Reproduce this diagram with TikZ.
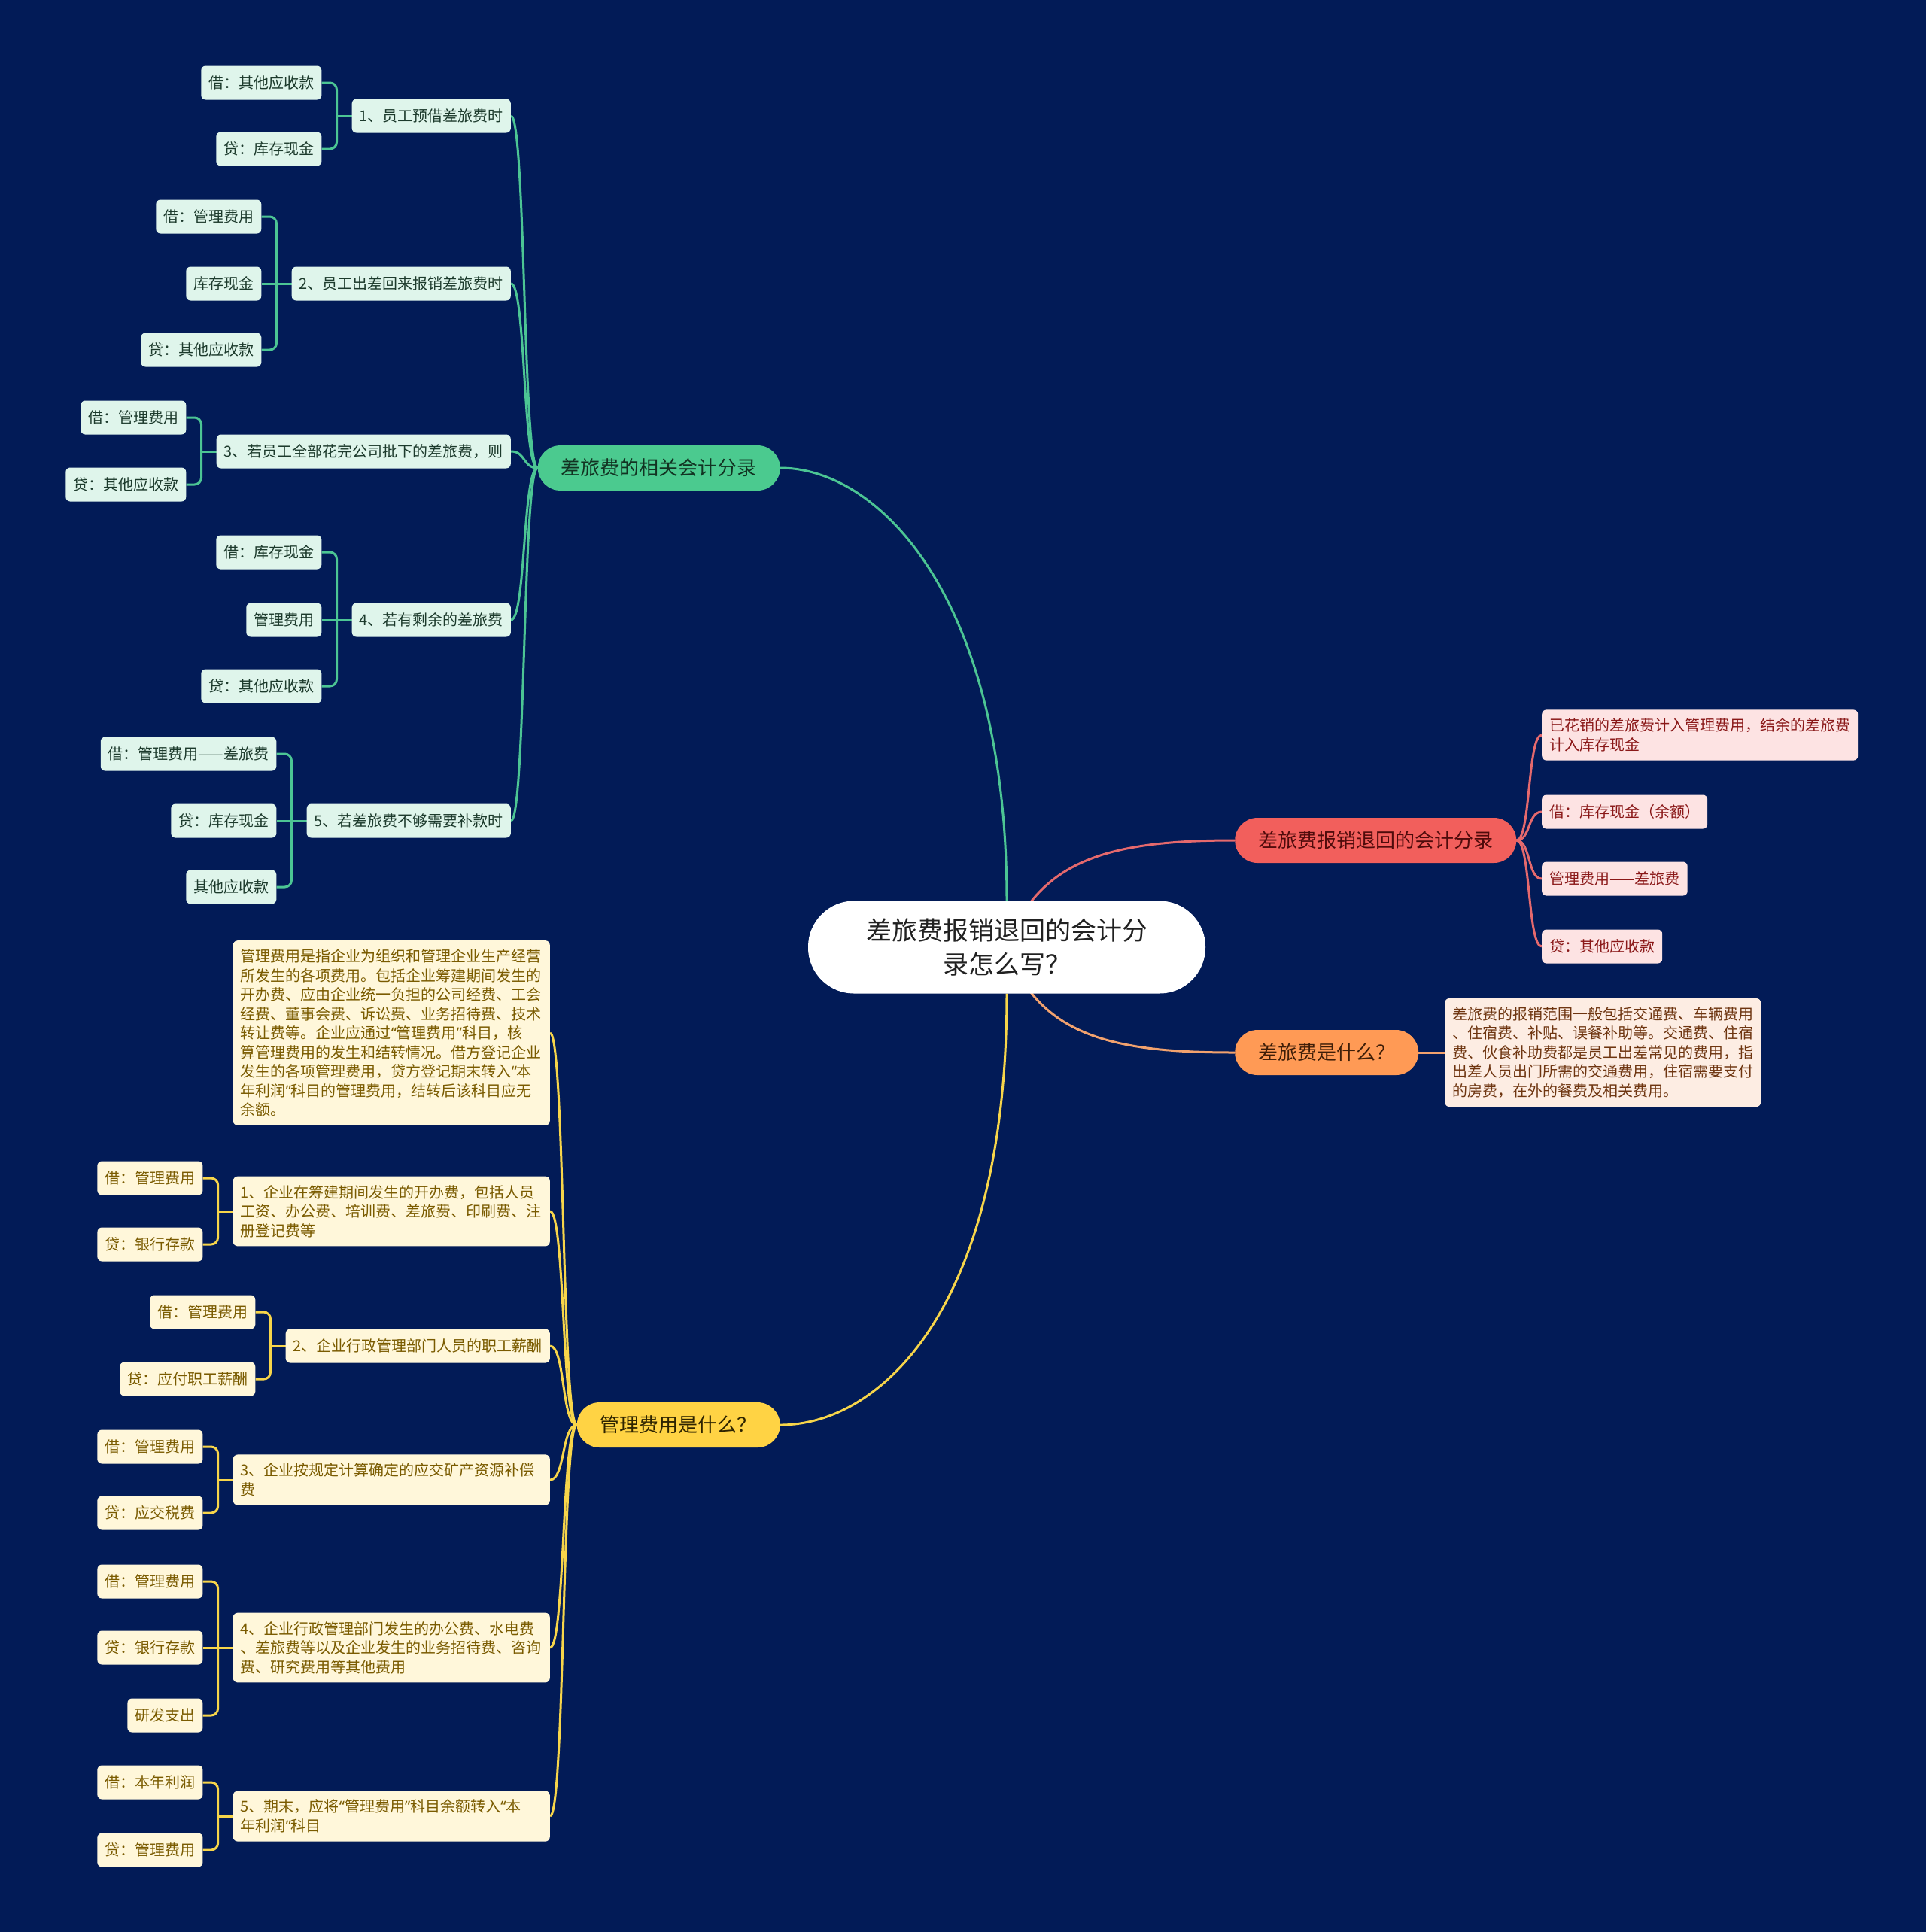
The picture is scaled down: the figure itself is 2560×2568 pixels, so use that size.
\documentclass[tikz,border=0pt]{standalone}
\usepackage{fontspec}
\setmainfont{Noto Sans CJK SC}
\newfontfamily\qfont{Noto Sans}
\newcommand\oq{{\qfont “}}
\newcommand\cq{{\qfont ”}}
\usetikzlibrary{calc}
\pgfdeclarelayer{back}
\pgfdeclarelayer{lines}
\pgfsetlayers{back,lines,main}
\definecolor{bgnavy}{HTML}{021B57}
\definecolor{gline}{HTML}{4CC594}
\definecolor{gmain}{HTML}{4BCA8F}
\definecolor{gbox}{HTML}{DFF5EB}
\definecolor{gtext}{HTML}{1C3A2C}
\definecolor{gmaintext}{HTML}{123322}
\definecolor{rline}{HTML}{E5696D}
\definecolor{rmain}{HTML}{F25F5C}
\definecolor{rbox}{HTML}{FDE3E3}
\definecolor{rtext}{HTML}{8A1818}
\definecolor{rmaintext}{HTML}{4E0B0B}
\definecolor{oline}{HTML}{F2A26E}
\definecolor{omain}{HTML}{FF9A55}
\definecolor{obox}{HTML}{FDEDE3}
\definecolor{otext}{HTML}{6E3510}
\definecolor{omaintext}{HTML}{3E1E08}
\definecolor{yline}{HTML}{F7D54A}
\definecolor{ymain}{HTML}{FFD344}
\definecolor{ybox}{HTML}{FFF7DA}
\definecolor{ytext}{HTML}{7A5B00}
\definecolor{ymaintext}{HTML}{2E2400}
\begin{document}
\begin{tikzpicture}[x=1pt,y=-1pt,
  cmain/.style={fill=white, text=black!87, rounded corners=61pt, minimum width=528pt, minimum height=123pt, align=center, font=\fontsize{34}{45}\selectfont, inner sep=0pt},
  mainst/.style={rounded corners=30pt, minimum height=60pt, inner xsep=31pt, inner ysep=0pt, font=\fontsize{26}{32}\selectfont},
  base/.style={inner xsep=10pt, inner ysep=11.5pt, rounded corners=6pt, font=\fontsize{20}{25.5}\selectfont, align=left, minimum height=45pt},
  gsm/.style={base, fill=gbox, text=gtext, anchor=east},
  rsm/.style={base, fill=rbox, text=rtext, anchor=west},
  osm/.style={base, fill=obox, text=otext, anchor=west},
  ysm/.style={base, fill=ybox, text=ytext, anchor=east},
  ywide/.style={ysm, text width=401pt},
  gl/.style={draw=gline, line width=3pt},
  rl/.style={draw=rline, line width=3pt},
  ol/.style={draw=oline, line width=3pt},
  yl/.style={draw=yline, line width=3pt},
  br/.style={rounded corners=9pt}
]
\begin{pgfonlayer}{back}
\fill[bgnavy] (0,0) rectangle (2560,2568);
\end{pgfonlayer}
\useasboundingbox (0,0) rectangle (2560,2568);

% central
\node[cmain] (c) at (1338,1259) {差旅费报销退回的会计分\\录怎么写？};

% main branches
\node[mainst, fill=gmain, text=gmaintext, anchor=east] (g) at (1037,622) {差旅费的相关会计分录};
\node[mainst, fill=rmain, text=rmaintext, anchor=west] (r) at (1641,1117) {差旅费报销退回的会计分录};
\node[mainst, fill=omain, text=omaintext, anchor=west] (o) at (1641,1399) {差旅费是什么？};
\node[mainst, fill=ymain, text=ymaintext, anchor=east] (y) at (1037,1894) {管理费用是什么？};

% green level 2
\node[gsm] (g1) at (679,154) {1、员工预借差旅费时};
\node[gsm] (g2) at (679,377) {2、员工出差回来报销差旅费时};
\node[gsm] (g3) at (679,600) {3、若员工全部花完公司批下的差旅费，则};
\node[gsm] (g4) at (679,824) {4、若有剩余的差旅费};
\node[gsm] (g5) at (679,1091) {5、若差旅费不够需要补款时};

% green level 3
\node[gsm, xshift=-40pt] (g11) at (g1.west |- 0,110) {借：其他应收款};
\node[gsm, xshift=-40pt] (g12) at (g1.west |- 0,198) {贷：库存现金};
\node[gsm, xshift=-40pt] (g21) at (g2.west |- 0,288) {借：管理费用};
\node[gsm, xshift=-40pt] (g22) at (g2.west |- 0,377) {库存现金};
\node[gsm, xshift=-40pt] (g23) at (g2.west |- 0,465) {贷：其他应收款};
\node[gsm, xshift=-40pt] (g31) at (g3.west |- 0,555) {借：管理费用};
\node[gsm, xshift=-40pt] (g32) at (g3.west |- 0,644) {贷：其他应收款};
\node[gsm, xshift=-40pt] (g41) at (g4.west |- 0,734) {借：库存现金};
\node[gsm, xshift=-40pt] (g42) at (g4.west |- 0,824) {管理费用};
\node[gsm, xshift=-40pt] (g43) at (g4.west |- 0,912) {贷：其他应收款};
\node[gsm, xshift=-40pt] (g51) at (g5.west |- 0,1002) {借：管理费用——差旅费};
\node[gsm, xshift=-40pt] (g52) at (g5.west |- 0,1091) {贷：库存现金};
\node[gsm, xshift=-40pt] (g53) at (g5.west |- 0,1179) {其他应收款};

% red children
\node[rsm] (r1) at (2049,977) {已花销的差旅费计入管理费用，结余的差旅费\\计入库存现金};
\node[rsm] (r2) at (2049,1079) {借：库存现金（余额）};
\node[rsm] (r3) at (2049,1168) {管理费用——差旅费};
\node[rsm] (r4) at (2049,1258) {贷：其他应收款};

% orange child
\node[osm] (o1) at (1920,1399) {差旅费的报销范围一般包括交通费、车辆费用\\、住宿费、补贴、误餐补助等。交通费、住宿\\费、伙食补助费都是员工出差常见的费用，指\\出差人员出门所需的交通费用，住宿需要支付\\的房费，在外的餐费及相关费用。};

% yellow level 2
\node[ywide] (y0) at (731,1373) {管理费用是指企业为组织和管理企业生产经营\\所发生的各项费用。包括企业筹建期间发生的\\开办费、应由企业统一负担的公司经费、工会\\经费、董事会费、诉讼费、业务招待费、技术\\转让费等。企业应通过\oq 管理费用\cq 科目，核\\算管理费用的发生和结转情况。借方登记企业\\发生的各项管理费用，贷方登记期末转入\oq 本\\年利润\cq 科目的管理费用，结转后该科目应无\\余额。};
\node[ywide] (y1) at (731,1610) {1、企业在筹建期间发生的开办费，包括人员\\工资、办公费、培训费、差旅费、印刷费、注\\册登记费等};
\node[ysm] (y2) at (731,1789) {2、企业行政管理部门人员的职工薪酬};
\node[ywide] (y3) at (731,1967) {3、企业按规定计算确定的应交矿产资源补偿\\费};
\node[ywide] (y4) at (731,2190) {4、企业行政管理部门发生的办公费、水电费\\、差旅费等以及企业发生的业务招待费、咨询\\费、研究费用等其他费用};
\node[ywide] (y5) at (731,2414) {5、期末，应将\oq 管理费用\cq 科目余额转入\oq 本\\年利润\cq 科目};

% yellow level 3
\node[ysm, xshift=-40pt] (y11) at (y1.west |- 0,1566) {借：管理费用};
\node[ysm, xshift=-40pt] (y12) at (y1.west |- 0,1654) {贷：银行存款};
\node[ysm, xshift=-40pt] (y21) at (y2.west |- 0,1744) {借：管理费用};
\node[ysm, xshift=-40pt] (y22) at (y2.west |- 0,1833) {贷：应付职工薪酬};
\node[ysm, xshift=-40pt] (y31) at (y3.west |- 0,1923) {借：管理费用};
\node[ysm, xshift=-40pt] (y32) at (y3.west |- 0,2011) {贷：应交税费};
\node[ysm, xshift=-40pt] (y41) at (y4.west |- 0,2102) {借：管理费用};
\node[ysm, xshift=-40pt] (y42) at (y4.west |- 0,2190) {贷：银行存款};
\node[ysm, xshift=-40pt] (y43) at (y4.west |- 0,2280) {研发支出};
\node[ysm, xshift=-40pt] (y51) at (y5.west |- 0,2369) {借：本年利润};
\node[ysm, xshift=-40pt] (y52) at (y5.west |- 0,2459) {贷：管理费用};

\begin{pgfonlayer}{lines}
% central to main
\draw[gl] (c.north) .. controls (1338,797) and (1170,622) .. (g.east);
\draw[yl] (c.south) .. controls (1338,1740) and (1170,1894) .. (y.east);
\draw[rl] (c.center) .. controls (1380,1140) and (1480,1117) .. (r.west);
\draw[ol] (c.center) .. controls (1380,1378) and (1480,1399) .. (o.west);

% main to level 2
\foreach \k in {g1,g2,g3,g4,g5}
  \draw[gl] (\k.east) .. controls +(20,0) and +(-20,0) .. (g.west);
\foreach \k in {r1,r2,r3,r4}
  \draw[rl] (r.east) .. controls +(19,0) and +(-19,0) .. (\k.west);
\draw[ol] (o.east) -- (o1.west);
\foreach \k in {y0,y1,y2,y3,y4,y5}
  \draw[yl] (\k.east) .. controls +(20,0) and +(-20,0) .. (y.west);

% brackets green
\draw[gl] (g1.west) -- ++(-20,0) coordinate (gb1);
\draw[gl,br] (gb1) |- (g11.east);
\draw[gl,br] (gb1) |- (g12.east);
\draw[gl] (g2.west) -- ++(-20,0) coordinate (gb2);
\draw[gl,br] (gb2) |- (g21.east);
\draw[gl] (gb2) -- (g22.east);
\draw[gl,br] (gb2) |- (g23.east);
\draw[gl] (g3.west) -- ++(-20,0) coordinate (gb3);
\draw[gl,br] (gb3) |- (g31.east);
\draw[gl,br] (gb3) |- (g32.east);
\draw[gl] (g4.west) -- ++(-20,0) coordinate (gb4);
\draw[gl,br] (gb4) |- (g41.east);
\draw[gl] (gb4) -- (g42.east);
\draw[gl,br] (gb4) |- (g43.east);
\draw[gl] (g5.west) -- ++(-20,0) coordinate (gb5);
\draw[gl,br] (gb5) |- (g51.east);
\draw[gl] (gb5) -- (g52.east);
\draw[gl,br] (gb5) |- (g53.east);

% brackets yellow
\draw[yl] (y1.west) -- ++(-20,0) coordinate (yb1);
\draw[yl,br] (yb1) |- (y11.east);
\draw[yl,br] (yb1) |- (y12.east);
\draw[yl] (y2.west) -- ++(-20,0) coordinate (yb2);
\draw[yl,br] (yb2) |- (y21.east);
\draw[yl,br] (yb2) |- (y22.east);
\draw[yl] (y3.west) -- ++(-20,0) coordinate (yb3);
\draw[yl,br] (yb3) |- (y31.east);
\draw[yl,br] (yb3) |- (y32.east);
\draw[yl] (y4.west) -- ++(-20,0) coordinate (yb4);
\draw[yl,br] (yb4) |- (y41.east);
\draw[yl] (yb4) -- (y42.east);
\draw[yl,br] (yb4) |- (y43.east);
\draw[yl] (y5.west) -- ++(-20,0) coordinate (yb5);
\draw[yl,br] (yb5) |- (y51.east);
\draw[yl,br] (yb5) |- (y52.east);
\end{pgfonlayer}
\end{tikzpicture}
\end{document}
